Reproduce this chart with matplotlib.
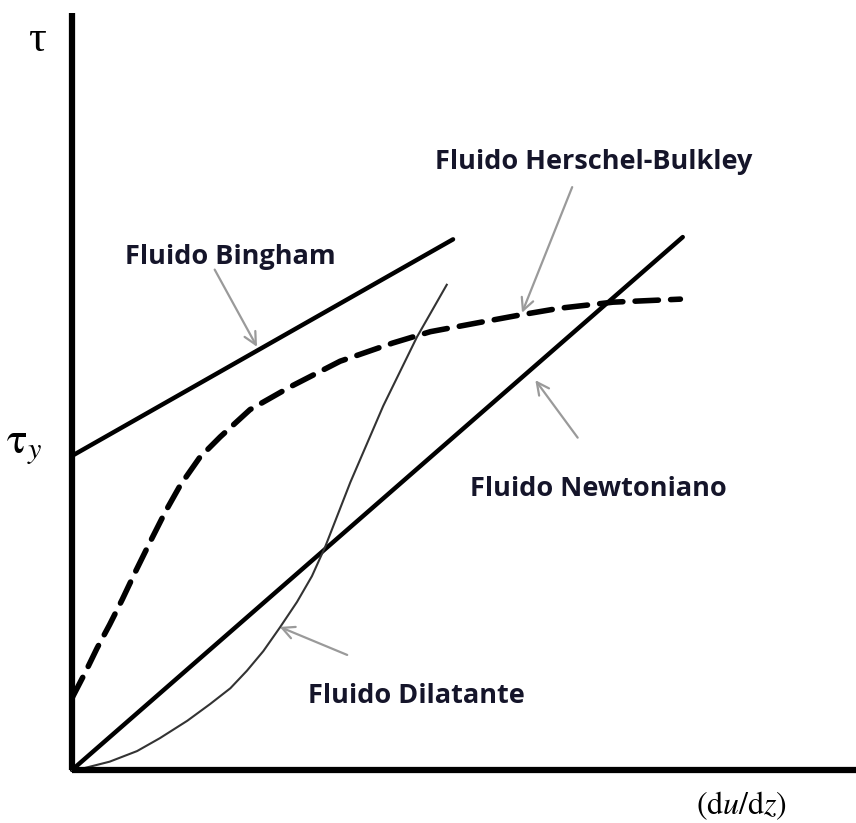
import matplotlib.pyplot as plt

OUT_PATH = "out.png"

# shear rate (x) and shear stress (y), arbitrary units
bingham_x = [0.0, 4.86]
bingham_y = [4.15, 7.01]

newton_x = [0.0, 7.79]
newton_y = [0.0, 7.04]

dilatant_x = [0.0, 0.10, 0.48, 0.83, 1.12, 1.47, 1.76, 2.02, 2.23, 2.44,
              2.65, 2.87, 3.06, 3.23, 3.55, 3.97, 4.40, 4.78]
dilatant_y = [0.0, 0.01, 0.11, 0.25, 0.42, 0.65, 0.87, 1.08, 1.31, 1.57,
              1.88, 2.22, 2.56, 2.95, 3.80, 4.81, 5.72, 6.41]

hb_x = [0.0, 0.17, 0.32, 0.48, 0.64, 0.80, 0.99, 1.19, 1.38, 1.63, 1.89,
        2.27, 2.78, 3.42, 4.09, 4.57, 5.24, 5.71, 6.22, 6.90, 7.76]
hb_y = [0.95, 1.29, 1.61, 1.92, 2.25, 2.60, 3.00, 3.41, 3.76, 4.13, 4.40,
        4.76, 5.06, 5.40, 5.64, 5.79, 5.92, 6.01, 6.10, 6.18, 6.22]

labels = ["Fluido Bingham", "Fluido Herschel-Bulkley",
          "Fluido Newtoniano", "Fluido Dilatante"]
label_pos = [(2.02, 6.78), (6.66, 8.03), (6.72, 3.71), (4.39, 0.98)]
arrow_tail = [(1.82, 6.61), (6.38, 7.70), (6.45, 4.39), (3.51, 1.52)]
arrow_tip = [(2.36, 5.59), (5.74, 6.04), (5.91, 5.15), (2.65, 1.89)]


def main():

    plt.rcParams["mathtext.fontset"] = "stix"

    fig = plt.figure(figsize=(8.56, 8.23), dpi=100)
    ax = fig.add_axes([72 / 856, 53 / 823, 784 / 856, 757 / 823])

    ax.set_xlim(0, 10)
    ax.set_ylim(0, 10)
    ax.set_xticks([])
    ax.set_yticks([])

    for side in ["top", "right"]:
        ax.spines[side].set_visible(False)
    for side in ["left", "bottom"]:
        ax.spines[side].set_linewidth(4.5)
        ax.spines[side].set_capstyle("butt")

    ax.plot(bingham_x, bingham_y, color="black", lw=3.2,
            solid_capstyle="round", clip_on=False)
    ax.plot(newton_x, newton_y, color="black", lw=3.2,
            solid_capstyle="round", clip_on=False)
    ax.plot(dilatant_x, dilatant_y, color="#333333", lw=1.5,
            solid_joinstyle="round", clip_on=False)
    ax.plot(hb_x, hb_y, color="black", lw=4.0,
            linestyle=(0, (4.2, 2.2)), dash_capstyle="round", clip_on=False)

    for text, pos, tail, tip in zip(labels, label_pos, arrow_tail, arrow_tip):
        ax.text(pos[0], pos[1], text, ha="center", va="center",
                fontsize=19.5, fontweight="bold", family="Open Sans",
                color="#15152a")
        ax.annotate("", xy=tip, xytext=tail,
                    arrowprops=dict(arrowstyle="->", color="#9a9a9a",
                                    lw=1.6, mutation_scale=22,
                                    shrinkA=0, shrinkB=0))

    fig.text(37 / 856, 1 - 40 / 823, "τ", fontsize=32,
             ha="center", va="center", family="Liberation Serif")
    fig.text(24 / 856, 1 - 446 / 823, r"$\mathrm{τ}_y$", fontsize=31,
             ha="center", va="center")
    fig.text(742 / 856, 1 - 806 / 823, r"(d$u$/d$z$)", fontsize=23,
             ha="center", va="center", family="STIXGeneral")

    fig.savefig(OUT_PATH, dpi=100)
    plt.close(fig)


if __name__ == "__main__":
    main()
